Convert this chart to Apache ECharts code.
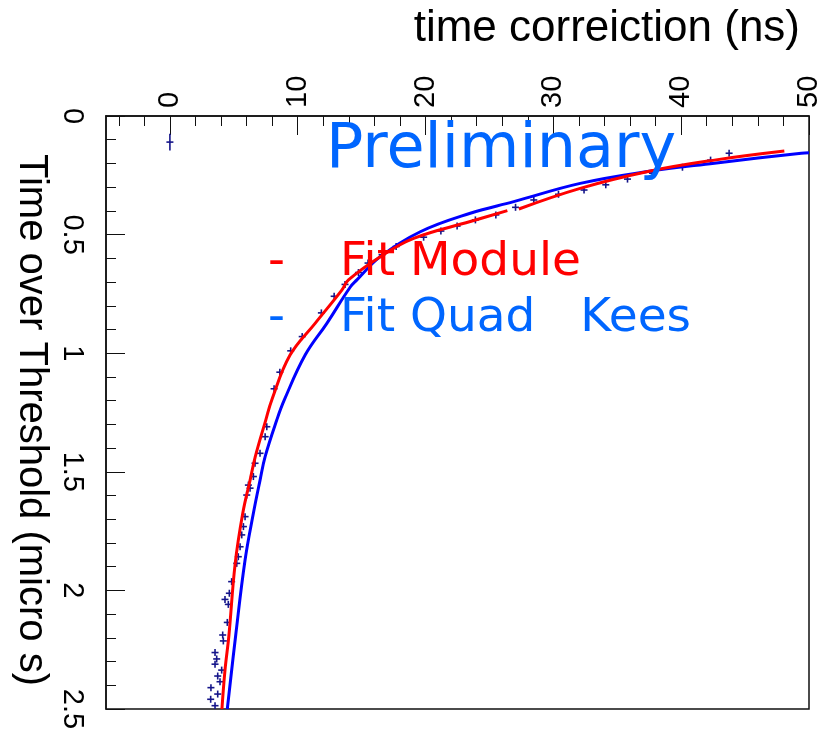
<!DOCTYPE html>
<html>
<head>
<meta charset="utf-8">
<script src="https://cdn.jsdelivr.net/npm/echarts@6/dist/echarts.min.js"></script>
<style>
  html, body { margin: 0; padding: 0; background: #fff; }
  #c { width: 828px; height: 737px; }
</style>
</head>
<body>
<div id="c"></div>
<script>
// Measured points: time correction (ns) vs time over threshold (micro s)
const dataTimeCorr = [3.53, 3.19, 3.74, 3.21, 3.92, 3.74, 4.05, 3.53, 3.66, 3.53, 4.18, 4.13, 4.49, 4.57, 4.31, 4.65, 4.83,
  5.23, 5.35, 5.49, 5.62, 5.75, 5.88, 6.01, 6.14, 6.27, 6.53, 6.66, 7.05, 7.45, 7.58,
  8.15, 8.6, 9.45, 10.35, 11.85, 12.85, 13.7, 14.75, 15.5, 16.6, 17.7, 19.85, 21.2, 22.47, 23.9, 25.5,
  27.04, 28.47, 30.4, 32.4, 34.1, 35.8, 37.75, 40.1, 42.3, 43.75, 0];
const dataToT = [2.486, 2.459, 2.437, 2.41, 2.385, 2.361, 2.336, 2.311, 2.289, 2.262, 2.213, 2.188, 2.135, 2.059, 2.038, 2.012, 1.963,
  1.886, 1.858, 1.816, 1.766, 1.731, 1.689, 1.598, 1.556, 1.569, 1.52, 1.464, 1.422, 1.352, 1.31,
  1.15, 1.08, 0.99, 0.93, 0.83, 0.76, 0.71, 0.66, 0.62, 0.585, 0.55, 0.511, 0.485, 0.464, 0.438, 0.417,
  0.385, 0.354, 0.33, 0.312, 0.29, 0.266, 0.241, 0.216, 0.186, 0.157, 0.11];
const dataToTErr = [0.012, 0.012, 0.012, 0.012, 0.012, 0.012, 0.012, 0.012, 0.012, 0.012, 0.012, 0.012, 0.012, 0.012, 0.012, 0.012, 0.012,
  0.012, 0.012, 0.012, 0.012, 0.012, 0.012, 0.012, 0.012, 0.012, 0.012, 0.012, 0.012, 0.012, 0.012,
  0.01, 0.01, 0.01, 0.01, 0.01, 0.01, 0.01, 0.01, 0.01, 0.01, 0.01, 0.01, 0.01, 0.01, 0.01, 0.01,
  0.01, 0.01, 0.01, 0.01, 0.01, 0.01, 0.01, 0.01, 0.01, 0.01, 0.035];

// "Fit Module" curve, two fitted ranges separated by a break (null)
const fitModuleX = [4.07, 4.31, 4.62, 5.10, 5.70, 6.27, 6.68, 7.50, 7.97, 9.40, 11.36, 13.45, 13.97, 16.46, 19.07, 23.5, 26.4,
  null, 27.3, 32.1, 37.4, 42.6, 48.07];
const fitModuleToT = [2.5, 2.336, 2.188, 1.89, 1.675, 1.536, 1.436, 1.282, 1.197, 1.008, 0.874, 0.734, 0.691, 0.593, 0.516, 0.445, 0.399,
  null, 0.392, 0.305, 0.234, 0.186, 0.148];

// "Fit Quad Kees" curve
const fitQuadX = [4.49, 5.15, 5.88, 6.53, 7.05, 7.45, 8.36, 8.95, 10.58, 12.28, 14.1, 14.63, 16.46, 19.59, 23.5, 26.9, 32.1, 37.36, 42.6, 49.4, 50];
const fitQuadToT = [2.5, 2.188, 1.872, 1.675, 1.536, 1.436, 1.282, 1.197, 1.008, 0.874, 0.722, 0.691, 0.593, 0.488, 0.410, 0.361, 0.284, 0.234, 0.199, 0.157, 0.155];

// Axis ticks
const xTickLabels = [0, 10, 20, 30, 40, 50];
const xMinorTicks = [-4, -2, 0, 2, 4, 6, 8, 10, 12, 14, 16, 18, 20, 22, 24, 26, 28, 30, 32, 34, 36, 38, 40, 42, 44, 46, 48, 50];
const yTickLabels = [0, 0.5, 1, 1.5, 2, 2.5];

const chart = echarts.init(document.getElementById('c'), null, { renderer: 'canvas' });

const toPairs = (xs, ys) => xs.map((x, i) => (x === null ? ['-', '-'] : [x, ys[i]]));
const pointData = dataTimeCorr.map((x, i) => [x, dataToT[i], dataToTErr[i]]);

const axisFont = 'Liberation Sans, Arial, sans-serif';
const legendFont = 'DejaVu Sans, Verdana, sans-serif';
const markColor = '#15158a';

chart.setOption({
  animation: false,
  backgroundColor: '#fff',
  grid: {
    left: 106, top: 116, right: 19, bottom: 28,
    show: true, borderColor: '#111', borderWidth: 1.5, backgroundColor: 'transparent'
  },
  xAxis: [
    {
      type: 'value', position: 'top', min: -5, max: 50,
      axisLine: { show: true, onZero: false, lineStyle: { color: '#111', width: 1.5 } },
      axisTick: { show: true, inside: true, length: 19, customValues: xTickLabels, lineStyle: { color: '#111', width: 1 } },
      axisLabel: {
        customValues: xTickLabels, rotate: -90, margin: 8,
        fontFamily: axisFont, fontSize: 29, color: '#000'
      },
      splitLine: { show: false }
    },
    {
      type: 'value', position: 'top', min: -5, max: 50,
      axisLine: { show: false, onZero: false },
      axisTick: { show: true, inside: true, length: 10, customValues: xMinorTicks, lineStyle: { color: '#111', width: 1 } },
      axisLabel: { show: false },
      splitLine: { show: false }
    }
  ],
  yAxis: {
    type: 'value', inverse: true, min: 0, max: 2.5, interval: 0.5,
    axisLine: { show: true, onZero: false, lineStyle: { color: '#111', width: 1.5 } },
    axisTick: { show: true, inside: true, length: 19, lineStyle: { color: '#111', width: 1 } },
    minorTick: { show: true, splitNumber: 5, length: 10, lineStyle: { color: '#111', width: 1 } },
    axisLabel: {
      rotate: -90, margin: 20,
      fontFamily: axisFont, fontSize: 29, color: '#000',
      formatter: v => (yTickLabels.indexOf(v) >= 0 ? String(v) : '')
    },
    splitLine: { show: false },
    minorSplitLine: { show: false }
  },
  series: [
    {
      name: 'data',
      type: 'custom',
      xAxisIndex: 0,
      z: 2,
      clip: true,
      data: pointData,
      renderItem: function (params, api) {
        const x = api.value(0), t = api.value(1), e = api.value(2);
        const c = api.coord([x, t]);
        const a = api.coord([x, t - e]);
        const b = api.coord([x, t + e]);
        const st = { stroke: markColor, lineWidth: 1.6 };
        return {
          type: 'group',
          children: [
            { type: 'line', shape: { x1: c[0] - 3.5, y1: c[1], x2: c[0] + 3.5, y2: c[1] }, style: st },
            { type: 'line', shape: { x1: a[0], y1: Math.min(a[1], c[1] - 3.5), x2: b[0], y2: Math.max(b[1], c[1] + 3.5) }, style: st }
          ]
        };
      }
    },
    {
      name: 'Fit Module',
      type: 'line',
      xAxisIndex: 0,
      z: 4,
      data: toPairs(fitModuleX, fitModuleToT),
      smooth: 0.4,
      connectNulls: false,
      showSymbol: false,
      clip: true,
      lineStyle: { color: '#ff0000', width: 3 }
    },
    {
      name: 'Fit Quad Kees',
      type: 'line',
      xAxisIndex: 0,
      z: 3,
      data: toPairs(fitQuadX, fitQuadToT),
      smooth: 0.4,
      showSymbol: false,
      clip: true,
      lineStyle: { color: '#0000ff', width: 3 }
    }
  ],
  graphic: [
    {
      type: 'text', x: 800, y: 29, z: 10,
      style: { text: 'time correiction (ns)', font: '44px ' + axisFont, fill: '#000', align: 'right', verticalAlign: 'middle' }
    },
    {
      type: 'text', x: 31, y: 420, rotation: -Math.PI / 2, z: 10,
      style: { text: 'Time over Threshold (micro s)', font: '40px ' + axisFont, fill: '#000', align: 'center', verticalAlign: 'middle' }
    },
    {
      type: 'text', x: 326, y: 151, z: 10,
      style: { text: 'Preliminary', font: '62px ' + legendFont, fill: '#0066ff', align: 'left', verticalAlign: 'middle' }
    },
    {
      type: 'text', x: 268, y: 263, z: 10,
      style: { text: '-', font: '47px ' + legendFont, fill: '#ff0000', align: 'left', verticalAlign: 'middle' }
    },
    {
      type: 'text', x: 340, y: 263, z: 10,
      style: { text: 'Fit Module', font: '47px ' + legendFont, fill: '#ff0000', align: 'left', verticalAlign: 'middle' }
    },
    {
      type: 'text', x: 268, y: 319, z: 10,
      style: { text: '-', font: '47px ' + legendFont, fill: '#0066ff', align: 'left', verticalAlign: 'middle' }
    },
    {
      type: 'text', x: 340, y: 319, z: 10,
      style: { text: 'Fit Quad   Kees', font: '47px ' + legendFont, fill: '#0066ff', align: 'left', verticalAlign: 'middle' }
    }
  ]
});
</script>
</body>
</html>
